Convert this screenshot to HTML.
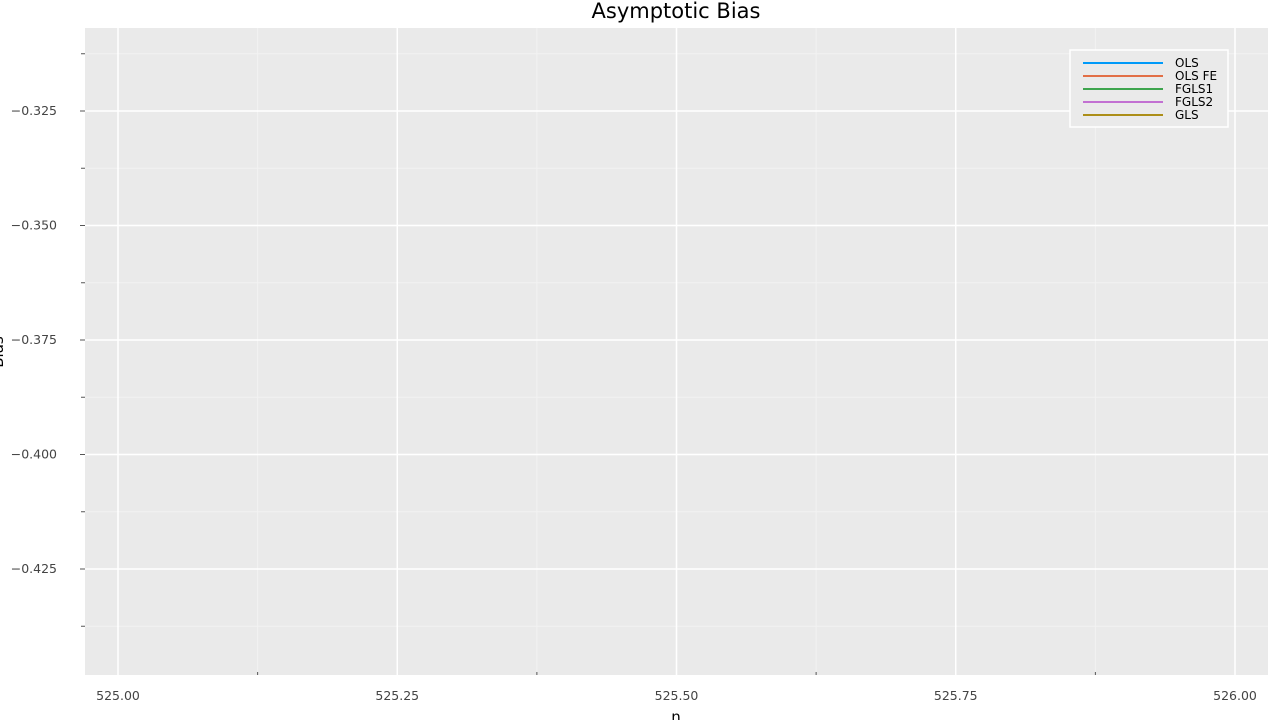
<!DOCTYPE html>
<html><head><meta charset="utf-8"><style>
body{margin:0;background:#fff;width:1280px;height:720px;overflow:hidden;font-family:"DejaVu Sans","Liberation Sans",sans-serif}
svg text{font-family:"DejaVu Sans","Liberation Sans",sans-serif}
</style></head><body>
<svg id="chart" width="1280" height="720" xmlns="http://www.w3.org/2000/svg">
<rect x="0" y="0" width="1280" height="720" fill="#fff"/>
<rect x="85" y="28" width="1183" height="647" fill="#eaeaea"/>
<g id="grid"></g><g id="axes"></g><g id="series"></g>
<text x="676" y="18" text-anchor="middle" font-size="21" fill="#000">Asymptotic Bias</text>
<text x="676" y="722" text-anchor="middle" font-size="15" fill="#000">n</text>
<text transform="translate(3,352) rotate(-90)" text-anchor="middle" font-size="15" fill="#000">Bias</text>
<g id="legend"></g>
</svg>
<script>
const xTicks=[525.0,525.25,525.5,525.75,526.0];
const xTickLabels=["525.00","525.25","525.50","525.75","526.00"];
const yTicks=[-0.325,-0.35,-0.375,-0.4,-0.425];
const yTickLabels=["\u22120.325","\u22120.350","\u22120.375","\u22120.400","\u22120.425"];
const seriesNames=["OLS","OLS FE","FGLS1","FGLS2","GLS"];
const seriesColors=["#009af9","#e26f46","#3da44d","#c271d2","#ac8e18"];
const nValues=[525];
const olsBias=[-0.38];
const olsFeBias=[-0.38];
const fgls1Bias=[-0.38];
const fgls2Bias=[-0.38];
const glsBias=[-0.38];
const allSeries=[olsBias,olsFeBias,fgls1Bias,fgls2Bias,glsBias];

const L=85,R=1268,T=28,B=675;
function xs(v){return 118+(v-525)*(1235-118);}
function ys(v){return 111+(-0.325-v)/0.1*(569-111);}
const NS="http://www.w3.org/2000/svg";
function mk(tag,attrs,parent){const e=document.createElementNS(NS,tag);for(const k in attrs)e.setAttribute(k,attrs[k]);parent.appendChild(e);return e;}
const grid=document.getElementById('grid'),axes=document.getElementById('axes'),ser=document.getElementById('series'),leg=document.getElementById('legend');
for(let i=0;i<xTicks.length-1;i++){const x=xs((xTicks[i]+xTicks[i+1])/2);
 const l=mk('line',{x1:x,x2:x,y1:T,y2:B,stroke:'#f2f2f2','stroke-width':1},grid);
 
 const t=mk('line',{x1:x,x2:x,y1:B,y2:B-3,stroke:'#555','stroke-width':1},axes);
 }
const yMinor=[-0.3125,-0.3375,-0.3625,-0.3875,-0.4125,-0.4375];
yMinor.forEach(v=>{const y=ys(v);
 const l=mk('line',{x1:L,x2:R,y1:y,y2:y,stroke:'#f2f2f2','stroke-width':1},grid);
 
 const t=mk('line',{x1:L-4,x2:L,y1:y,y2:y,stroke:'#555','stroke-width':1},axes);
 });
xTicks.forEach((v,i)=>{const x=xs(v);
 const l=mk('line',{x1:x,x2:x,y1:T,y2:B,stroke:'#fff','stroke-width':1.5},grid);
 
 const t=mk('text',{x:x,y:700,'text-anchor':'middle','font-size':12.5,fill:'#444'},axes);t.textContent=xTickLabels[i];
 });
yTicks.forEach((v,i)=>{const y=ys(v);
 const l=mk('line',{x1:L,x2:R,y1:y,y2:y,stroke:'#fff','stroke-width':1.5},grid);
 
 const tk=mk('line',{x1:L-5,x2:L,y1:y,y2:y,stroke:'#555','stroke-width':1},axes);
 
 const t=mk('text',{x:57,y:y+4,'text-anchor':'end','font-size':12.5,fill:'#444'},axes);t.textContent=yTickLabels[i];
 });
allSeries.forEach((arr,si)=>{const pts=arr.map((v,i)=>xs(nValues[i])+','+ys(v)).join(' ');
 const p=mk('polyline',{points:pts,fill:'none',stroke:seriesColors[si],'stroke-width':2},ser);
 });
const lb=mk('rect',{x:1070,y:50,width:158,height:77,fill:'#eaeaea',stroke:'#fff','stroke-width':1.5},leg);

seriesNames.forEach((n,i)=>{const y=63+i*13;
 const l=mk('line',{x1:1083,x2:1163,y1:y,y2:y,stroke:seriesColors[i],'stroke-width':2},leg);
 
 const t=mk('text',{x:1175,y:y+4,'font-size':12,fill:'#000'},leg);t.textContent=n;
 });
</script>
</body></html>
